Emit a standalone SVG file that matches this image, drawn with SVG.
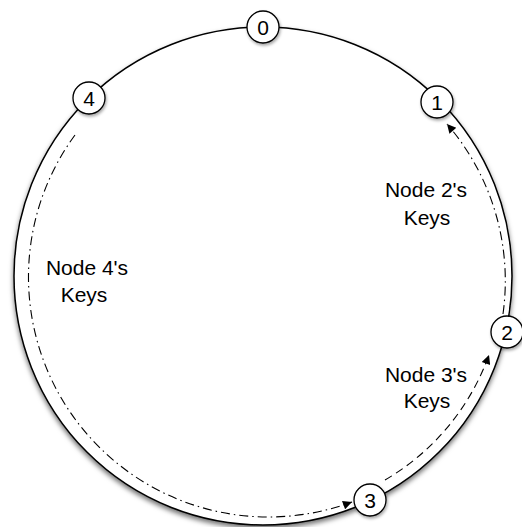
<svg xmlns="http://www.w3.org/2000/svg" width="522" height="527" viewBox="0 0 522 527">
<defs>
<style>
.ring{fill:#fff;stroke:#000;stroke-width:1.5}
.node circle{fill:#fff;stroke:#000;stroke-width:1.3}
.num{font-family:"Liberation Sans",Arial,sans-serif;font-size:21px;text-anchor:middle;fill:#000}
.lbl{font-family:"Liberation Sans",Arial,sans-serif;font-size:21px;text-anchor:middle;fill:#000}
.dd{fill:none;stroke:#000;stroke-width:1.1;stroke-dasharray:9 4 1.5 4}
.da{fill:none;stroke:#000;stroke-width:1.1;stroke-dasharray:8 5}
</style>
<filter id="sh" x="-20%" y="-20%" width="140%" height="140%">
<feDropShadow dx="0" dy="3" stdDeviation="2.5" flood-color="#000" flood-opacity="0.55"/>
</filter>
<filter id="nsh" x="-50%" y="-50%" width="200%" height="200%">
<feDropShadow dx="1" dy="2" stdDeviation="1.5" flood-color="#000" flood-opacity="0.35"/>
</filter>
<marker id="ah" viewBox="0 0 10 10" refX="10" refY="5" markerWidth="11" markerHeight="9" markerUnits="userSpaceOnUse" orient="auto">
<path d="M0,0 L10,5 L0,10 z" fill="#000"/>
</marker>
</defs>
<rect width="522" height="527" fill="#fff"/>
<circle class="ring" cx="263" cy="276" r="249" filter="url(#sh)"/>
<g id="connectors">
<path class="dd" d="M75,135 A240,240 0 0,0 352,502" marker-end="url(#ah)"/>
<path class="da" d="M385,480 A238,238 0 0,0 489,355" marker-end="url(#ah)"/>
<path class="dd" d="M503,314 A240,240 0 0,0 447,124" marker-end="url(#ah)"/>
</g>
<g id="node0" class="node"><circle cx="263" cy="27" r="16" filter="url(#nsh)"/><text class="num" x="263" y="34.5">0</text></g>
<g id="node1" class="node"><circle cx="437" cy="102" r="16" filter="url(#nsh)"/><text class="num" x="437" y="109.5">1</text></g>
<g id="node2" class="node"><circle cx="507" cy="332" r="16" filter="url(#nsh)"/><text class="num" x="507" y="339.5">2</text></g>
<g id="node3" class="node"><circle cx="370" cy="500" r="16" filter="url(#nsh)"/><text class="num" x="370" y="507.5">3</text></g>
<g id="node4" class="node"><circle cx="89" cy="98" r="16" filter="url(#nsh)"/><text class="num" x="89" y="105.5">4</text></g>
<g id="labels">
<text class="lbl" x="426" y="197">Node 2's</text>
<text class="lbl" x="427" y="225">Keys</text>
<text class="lbl" x="87" y="275">Node 4's</text>
<text class="lbl" x="84" y="302">Keys</text>
<text class="lbl" x="426" y="382">Node 3's</text>
<text class="lbl" x="427" y="408">Keys</text>
</g>
</svg>
